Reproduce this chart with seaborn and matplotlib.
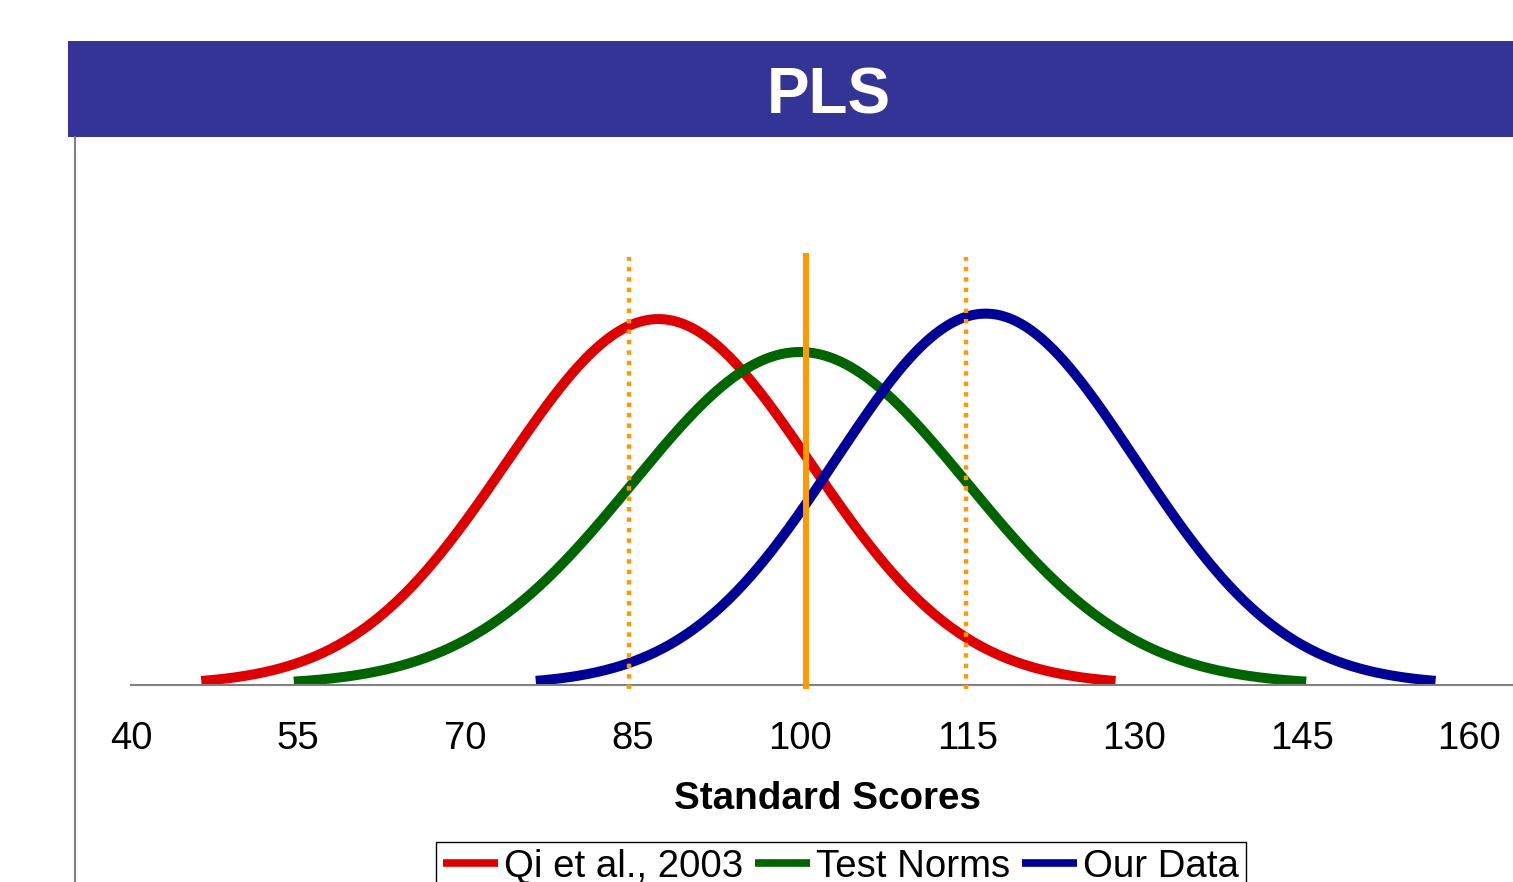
import numpy as np
import pandas as pd
import matplotlib
matplotlib.use("Agg")
import matplotlib.pyplot as plt
import seaborn as sns
from matplotlib.patches import Rectangle
from matplotlib.lines import Line2D

# ---------------- data ----------------
series = ["Qi et al., 2003", "Test Norms", "Our Data"]
means = [87.3, 100.0, 116.65]          # normal curve centres
sds = [13.65, 15.0, 13.45]             # normal curve standard deviations
x_start = [46.3, 54.6, 76.3]           # where each curve begins
x_end = [128.3, 145.4, 157.0]          # where each curve ends
colors = ["#DD0000", "#006400", "#000096"]

ref_x = [84.7, 100.5, 114.9]           # orange reference lines
ref_top = [0.0342, 0.03453, 0.0342]
ref_style = ["dotted", "solid", "dotted"]

ticks = [40, 55, 70, 85, 100, 115, 130, 145, 160]
title = "PLS"
xlabel = "Standard Scores"

# ---------------- build curves ----------------
rows = []
for name, m, s, a, b in zip(series, means, sds, x_start, x_end):
    xs = np.linspace(a, b, 500)
    ys = np.exp(-0.5 * ((xs - m) / s) ** 2) / (s * np.sqrt(2 * np.pi))
    rows.append(pd.DataFrame({"x": xs, "y": ys, "series": name}))
df = pd.concat(rows, ignore_index=True)

# ---------------- figure ----------------
sns.set_style("white")
plt.rcParams["font.family"] = ["Liberation Sans", "DejaVu Sans"]
plt.rcParams["text.color"] = "black"

W, H, DPI = 1513, 882, 100
fig = plt.figure(figsize=(W / DPI, H / DPI), dpi=DPI)
fig.patch.set_facecolor("white")

ax_left, ax_bottom, ax_top = 131, 685, 137
ax = fig.add_axes([ax_left / W, (H - ax_bottom) / H, (W - ax_left) / W, (ax_bottom - ax_top) / H])
ax.set_facecolor("none")

px_per_unit = (1469 - 131) / 120.0
ax.set_xlim(40, 40 + (W - ax_left) / px_per_unit)
green_peak = 1 / (15.0 * np.sqrt(2 * np.pi))
ax.set_ylim(0, green_peak * (ax_bottom - ax_top) / 333.0)

sns.lineplot(data=df, x="x", y="y", hue="series", hue_order=series,
             palette=dict(zip(series, colors)), linewidth=7.2, sort=False,
             estimator=None, legend=False, ax=ax)
for ln in ax.get_lines():
    ln.set_solid_capstyle("butt")

# orange reference lines
ybot = -4.0 / 333.0 * green_peak
for xv, yt, st in zip(ref_x, ref_top, ref_style):
    if st == "solid":
        ax.plot([xv, xv], [ybot, yt], color="#FF9900", lw=4.3, solid_capstyle="butt",
                clip_on=False, zorder=5)
    else:
        ax.plot([xv, xv], [ybot, yt], color="#FF9900", lw=3.2,
                linestyle=(0, (1, 1.35)), dash_capstyle="butt", clip_on=False, zorder=5)

# axes styling
for side in ["left", "top", "right"]:
    ax.spines[side].set_visible(False)
ax.spines["bottom"].set_color("#808080")
ax.spines["bottom"].set_linewidth(1.5)
ax.set_xticks(ticks)
ax.set_xticklabels([str(t) for t in ticks])
ax.set_yticks([])
ax.tick_params(axis="x", direction="out", length=8, width=1.5, color="#808080",
               labelsize=27.5, labelcolor="black", pad=18)
ax.set_xlabel("")
ax.set_ylabel("")

# x label
fig.text(827.5 / W, (H - 809) / H, xlabel, ha="center", va="baseline",
         fontsize=27.8, fontweight="bold", color="black")

# title banner
fig.add_artist(Rectangle((68 / W, (H - 137) / H), (W - 68) / W, 96 / H,
                         transform=fig.transFigure, facecolor="#343497",
                         edgecolor="none", zorder=0))
fig.text(829 / W, (H - 114) / H, title, ha="center", va="baseline",
         fontsize=46, fontweight="bold", color="white")

# chart frame line
fig.add_artist(Line2D([75 / W, 75 / W], [0, (H - 137) / H], transform=fig.transFigure,
                      color="#808080", lw=1.5))

# legend
handles = [Line2D([0], [0], color=c, lw=5.5, solid_capstyle="butt") for c in colors]
leg = fig.legend(handles, series, ncol=3, loc="upper left",
                 bbox_to_anchor=(436 / W, (H - 842) / H), fontsize=27.6,
                 frameon=True, fancybox=False, framealpha=1, edgecolor="black",
                 handlelength=1.45, handletextpad=0.15, columnspacing=0.3,
                 borderpad=0.18, borderaxespad=0, labelcolor="black")
leg.get_frame().set_linewidth(1.0)

fig.savefig("out.png", dpi=DPI)
